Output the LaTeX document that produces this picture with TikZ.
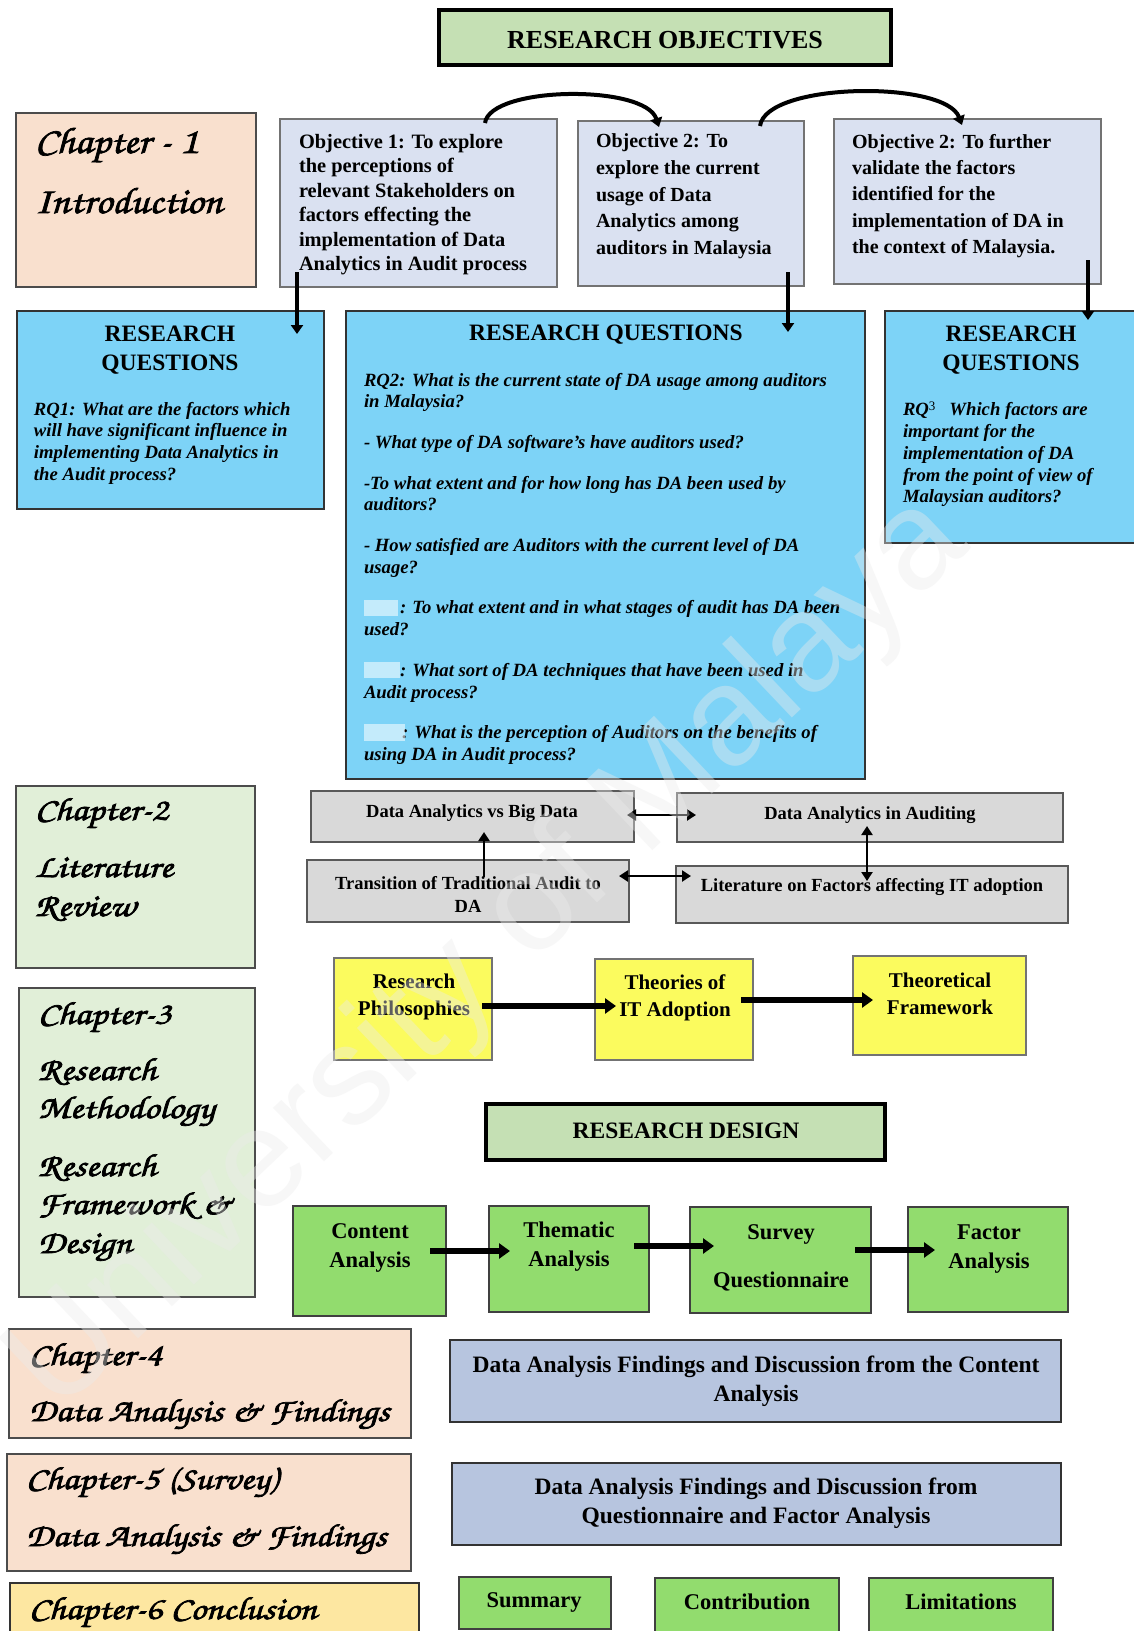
\documentclass[tikz,border=0pt]{standalone}
\usepackage[T1]{fontenc}
\usepackage{fontspec}
\setmainfont{Liberation Serif}
\newfontfamily\wmfont{Liberation Sans}
\usepackage{graphicx}
\usetikzlibrary{arrows.meta,calc}
\newcommand\chfont{\fontencoding{T1}\fontfamily{pzc}\fontseries{mb}\fontshape{it}\selectfont}
\newcommand\fbold[1]{\special{pdf:literal direct 2 Tr 0.7 w}#1\special{pdf:literal direct 0 Tr}}
\newcommand\chs[1]{\fbold{\scalebox{1.12}[1]{#1}}}
\newcommand\chw[1]{\fbold{\scalebox{1.19}[1]{#1}}}
\definecolor{headgreen}{HTML}{C5E0B4}
\definecolor{peach}{HTML}{F9E0CE}
\definecolor{objblue}{HTML}{DAE1F1}
\definecolor{rqblue}{HTML}{7DD3F7}
\definecolor{chgreen}{HTML}{E1EFD8}
\definecolor{litgray}{HTML}{D9D9D9}
\definecolor{yel}{HTML}{FBFB5E}
\definecolor{grn}{HTML}{92DC6E}
\definecolor{findblue}{HTML}{B7C5DF}
\definecolor{chsix}{HTML}{FDE7A1}
\tikzset{
  bx/.style={rectangle, inner sep=0pt, outer sep=0pt, anchor=north west, line width=1.3pt},
  headbox/.style={bx, draw=black, fill=headgreen, line width=4pt},
  chapbox/.style={bx, draw=black!70, fill=peach},
  chgbox/.style={bx, draw=black!70, fill=chgreen},
  objbox/.style={bx, draw=black!55, fill=objblue},
  rqbox/.style={bx, draw=black!80, fill=rqblue},
  litbox/.style={bx, draw=black!65, fill=litgray, line width=1.6pt},
  yelbox/.style={bx, draw=black!55, fill=yel},
  grnbox/.style={bx, draw=black!75, fill=grn},
  findbox/.style={bx, draw=black!80, fill=findblue, line width=1.8pt},
  txt/.style={inner sep=0pt, outer sep=0pt},
  chtext/.style={inner sep=0pt, outer sep=0pt, anchor=base west, font=\chfont\fontsize{32}{34}\selectfont},
  objtxt/.style={txt, anchor=north west, align=left, font=\bfseries\fontsize{20}{24.5}\selectfont},
  rqtxt/.style={txt, anchor=north west, align=left, font=\bfseries\itshape\fontsize{18.7}{21.8}\selectfont},
  rqhead/.style={txt, align=center, font=\bfseries\fontsize{23.5}{29}\selectfont},
  lbl/.style={txt, align=center, font=\bfseries\fontsize{18.5}{23}\selectfont},
  blbl/.style={txt, align=center, font=\bfseries\fontsize{21}{27}\selectfont},
  glbl/.style={txt, align=center, font=\bfseries\fontsize{22.5}{29}\selectfont},
  arc/.style={line width=4pt, -{Triangle[length=9pt,width=12pt]}},
  vdown/.style={line width=4pt, -{Triangle[length=9pt,width=12pt]}},
  thin/.style={line width=2.2pt},
  thick/.style={line width=6pt, -{Triangle[length=11pt,width=15pt]}},
  blur/.style={fill=white, opacity=0.55, draw=none}
}
\begin{document}
\begin{tikzpicture}[x=1pt,y=-1pt,>={Triangle[length=9pt,width=11pt]}]
\useasboundingbox (0,0) rectangle (1134,1631);
\fill[white] (0,0) rectangle (1134,1631);

% ---------- title ----------
\node[headbox, minimum width=452pt, minimum height=55pt] (resobj) at (439,10) {};
\node[txt, font=\bfseries\fontsize{26}{30}\selectfont] (resobjT) at (665,40) {RESEARCH OBJECTIVES};

% ---------- chapter 1 ----------
\node[chapbox, minimum width=240pt, minimum height=174pt] (ch1) at (16,113) {};
\node[chtext, font=\chfont\fontsize{37}{40}\selectfont] (ch1a) at (35,153) {\chs{Chapter - 1}};
\node[chtext, font=\chfont\fontsize{37}{40}\selectfont] (ch1b) at (35,213) {\chs{Introduction}};

% ---------- objectives ----------
\node[objbox, minimum width=277pt, minimum height=168pt] (obj1) at (280,119) {};
\node[objbox, minimum width=226pt, minimum height=165pt] (obj2) at (578,121) {};
\node[objbox, minimum width=267pt, minimum height=165pt] (obj3) at (834,119) {};
\node[objtxt, font=\bfseries\fontsize{20.4}{24.5}\selectfont] (obj1T) at (299,134) {Objective 1: To explore\\the perceptions of\\relevant Stakeholders on\\factors effecting the\\implementation of Data\\Analytics in Audit process};
\node[objtxt, font=\bfseries\fontsize{20}{26.6}\selectfont] (obj2T) at (596,134) {Objective 2: To\\explore the current\\usage of Data\\Analytics among\\auditors in Malaysia};
\node[objtxt, font=\bfseries\fontsize{20}{26.4}\selectfont] (obj3T) at (852,134) {Objective 2: To further\\validate the factors\\identified for the\\implementation of DA in\\the context of Malaysia.};

% arcs between objectives
\coordinate (a1s) at (485,123);
\coordinate (a1e) at (659,127);
\coordinate (a2s) at (760,126);
\coordinate (a2e) at (962,125);
\draw[arc] (a1s) .. controls (490,86) and (645,84) .. (a1e);
\draw[arc] (a2s) .. controls (766,82) and (945,80) .. (a2e);

% ---------- research questions ----------
\node[rqbox, minimum width=307pt, minimum height=198pt] (rq1) at (17,311) {};
\node[rqbox, minimum width=519pt, minimum height=468pt] (rq2) at (346,311) {};
\node[rqbox, minimum width=260pt, minimum height=232pt] (rq3) at (885,311) {};

\node[rqhead] (rq1H) at (170,350) {RESEARCH\\QUESTIONS};
\node[rqhead] (rq2H) at (606,335) {RESEARCH QUESTIONS};
\node[rqhead] (rq3H) at (1011,350) {RESEARCH\\QUESTIONS};

\node[rqtxt] (rq1T) at (34,402) {RQ1: What are the factors which\\will have significant influence in\\implementing Data Analytics in\\the Audit process?};
\node[rqtxt] (rq2T) at (364,373) {RQ2: What is the current state of DA usage among auditors\\in Malaysia?\\[18.8pt]- What type of DA software’s have auditors used?\\[18.8pt]-To what extent and for how long has DA been used by\\auditors?\\[18.8pt]- How satisfied are Auditors with the current level of DA\\usage?\\[18.8pt]\hspace*{36pt}: To what extent and in what stages of audit has DA been\\used?\\[18.8pt]\hspace*{36pt}: What sort of DA techniques that have been used in\\Audit process?\\[18.8pt]\hspace*{38pt}: What is the perception of Auditors on the benefits of\\using DA in Audit process?};
\node[rqtxt] (rq3T) at (903,402) {RQ{\upshape\mdseries\fontsize{13}{13}\selectfont\raisebox{5pt}{3}}\hspace{14pt}Which factors are\\important for the\\implementation of DA\\from the point of view of\\Malaysian auditors?};

% blurred labels
\fill[blur] (364,600) rectangle (398,616);
\fill[blur] (364,662) rectangle (400,678);
\fill[blur] (364,724) rectangle (405,741);

% vertical arrows objectives -> questions
\coordinate (o1s) at (297,272);
\coordinate (r1n) at (297,334);
\coordinate (o2s) at (788,272);
\coordinate (r2n) at (788,332);
\coordinate (o3s) at (1088,260);
\coordinate (r3n) at (1088,320);
\draw[vdown] (o1s) -- (r1n);
\draw[vdown] (o2s) -- (r2n);
\draw[vdown] (o3s) -- (r3n);

% ---------- chapter 2 & 3 ----------
\node[chgbox, minimum width=239pt, minimum height=182pt] (ch2) at (16,786) {};
\node[chtext] (ch2a) at (35,820) {\chw{Chapter-2}};
\node[chtext] (ch2b) at (35,877) {\chw{Literature}};
\node[chtext] (ch2c) at (35,916) {\chw{Review}};

\node[chgbox, minimum width=236pt, minimum height=309pt] (ch3) at (19,988) {};
\node[chtext] (ch3a) at (38,1024) {\chw{Chapter-3}};
\node[chtext] (ch3b) at (38,1080) {\chw{Research}};
\node[chtext] (ch3c) at (38,1118) {\chw{Methodology}};
\node[chtext] (ch3d) at (38,1176) {\chw{Research}};
\node[chtext] (ch3e) at (38,1214) {\chw{Framework \&}};
\node[chtext] (ch3f) at (38,1253) {\chw{Design}};

% ---------- literature boxes ----------
\node[litbox, minimum width=323pt, minimum height=51pt] (dabd) at (311,791) {};
\node[litbox, minimum width=386pt, minimum height=49pt] (daia) at (677,793) {};
\node[litbox, minimum width=322pt, minimum height=62pt] (tta) at (307,860) {};
\node[litbox, minimum width=392pt, minimum height=57pt] (lit) at (676,866) {};
\node[lbl] (dabdT) at (472,813) {Data Analytics vs Big Data};
\node[lbl] (daiaT) at (870,815) {Data Analytics in Auditing};
\node[lbl] (ttaT) at (468,894) {Transition of Traditional Audit to\\DA};
\node[lbl] (litT) at (872,887) {Literature on Factors affecting IT adoption};

\coordinate (h1a) at (627,815);
\coordinate (h1b) at (696,815);
\coordinate (h2a) at (619,876);
\coordinate (h2b) at (691,876);
\coordinate (v1a) at (484,877);
\coordinate (v1b) at (484,832);
\coordinate (v2a) at (867,826);
\coordinate (v2b) at (867,881);
\draw[thin,<->] (h1a) -- (h1b);
\draw[thin,<->] (h2a) -- (h2b);
\draw[thin,->] (v1a) -- (v1b);
\draw[thin,<->] (v2a) -- (v2b);

% ---------- yellow boxes ----------
\node[yelbox, minimum width=158pt, minimum height=102pt] (rp) at (334,958) {};
\node[yelbox, minimum width=158pt, minimum height=101pt] (tit) at (595,959) {};
\node[yelbox, minimum width=173pt, minimum height=99pt] (tf) at (853,956) {};
\node[blbl] (rpT) at (414,997) {Research\\Philosophies};
\node[blbl] (titT) at (675,998) {Theories of\\IT Adoption};
\node[blbl] (tfT) at (940,994) {Theoretical\\Framework};
\coordinate (y1a) at (482,1006);
\coordinate (y1b) at (616,1006);
\coordinate (y2a) at (741,1000);
\coordinate (y2b) at (873,1000);
\draw[thick] (y1a) -- (y1b);
\draw[thick] (y2a) -- (y2b);

% ---------- research design ----------
\node[headbox, minimum width=399pt, minimum height=56pt] (resdes) at (486,1104) {};
\node[txt, font=\bfseries\fontsize{23.5}{28}\selectfont] (resdesT) at (686,1131) {RESEARCH DESIGN};

\node[grnbox, minimum width=153pt, minimum height=110pt] (ca) at (293,1206) {};
\node[grnbox, minimum width=160pt, minimum height=106pt] (ta) at (489,1206) {};
\node[grnbox, minimum width=181pt, minimum height=106pt] (sq) at (690,1207) {};
\node[grnbox, minimum width=160pt, minimum height=105pt] (fa) at (908,1207) {};
\node[glbl] (caT) at (370,1248) {Content\\Analysis};
\node[glbl] (taT) at (569,1247) {Thematic\\Analysis};
\node[glbl, font=\bfseries\fontsize{22.5}{48}\selectfont] (sqT) at (781,1258) {Survey\\Questionnaire};
\node[glbl] (faT) at (989,1249) {Factor\\Analysis};
\coordinate (g1a) at (430,1251);
\coordinate (g1b) at (510,1251);
\coordinate (g2a) at (634,1246);
\coordinate (g2b) at (714,1246);
\coordinate (g3a) at (855,1250);
\coordinate (g3b) at (935,1250);
\draw[thick] (g1a) -- (g1b);
\draw[thick] (g2a) -- (g2b);
\draw[thick] (g3a) -- (g3b);

% ---------- chapters 4-6 ----------
\node[chapbox, minimum width=402pt, minimum height=109pt] (ch4) at (9,1329) {};
\node[chtext] (ch4a) at (29,1365) {\chw{Chapter-4}};
\node[chtext] (ch4b) at (29,1421) {\chw{Data Analysis \& Findings}};

\node[chapbox, minimum width=404pt, minimum height=117pt] (ch5) at (7,1454) {};
\node[chtext] (ch5a) at (26,1489) {\chw{Chapter-5 (Survey)}};
\node[chtext] (ch5b) at (26,1546) {\chw{Data Analysis \& Findings}};

\node[bx, draw=black!80, fill=chsix, minimum width=409pt, minimum height=70pt] (ch6) at (10,1583) {};
\node[chtext] (ch6a) at (29,1619) {\chw{Chapter-6 Conclusion}};

% ---------- findings ----------
\node[findbox, minimum width=611pt, minimum height=82pt] (f1) at (450,1340) {};
\node[findbox, minimum width=609pt, minimum height=82pt] (f2) at (452,1463) {};
\node[blbl, font=\bfseries\fontsize{23.5}{29}\selectfont] (f1T) at (756,1381) {Data Analysis Findings and Discussion from the Content\\Analysis};
\node[blbl, font=\bfseries\fontsize{23.5}{29}\selectfont] (f2T) at (756,1503) {Data Analysis Findings and Discussion from\\Questionnaire and Factor Analysis};

% ---------- conclusion parts ----------
\node[grnbox, minimum width=152pt, minimum height=52pt] (sum) at (459,1577) {};
\node[grnbox, minimum width=184pt, minimum height=55pt] (con) at (655,1578) {};
\node[grnbox, minimum width=184pt, minimum height=55pt] (lim) at (869,1578) {};
\node[glbl] (sumT) at (534,1602) {Summary};
\node[glbl] (conT) at (747,1602) {Contribution};
\node[glbl] (limT) at (961,1602) {Limitations};

% ---------- watermark ----------
\node[txt, rotate=43.5, text=black!8, opacity=0.4, font=\wmfont\fontsize{140}{140}\selectfont] (wm) at (490,955) {University of Malaya};
\end{tikzpicture}
\end{document}
